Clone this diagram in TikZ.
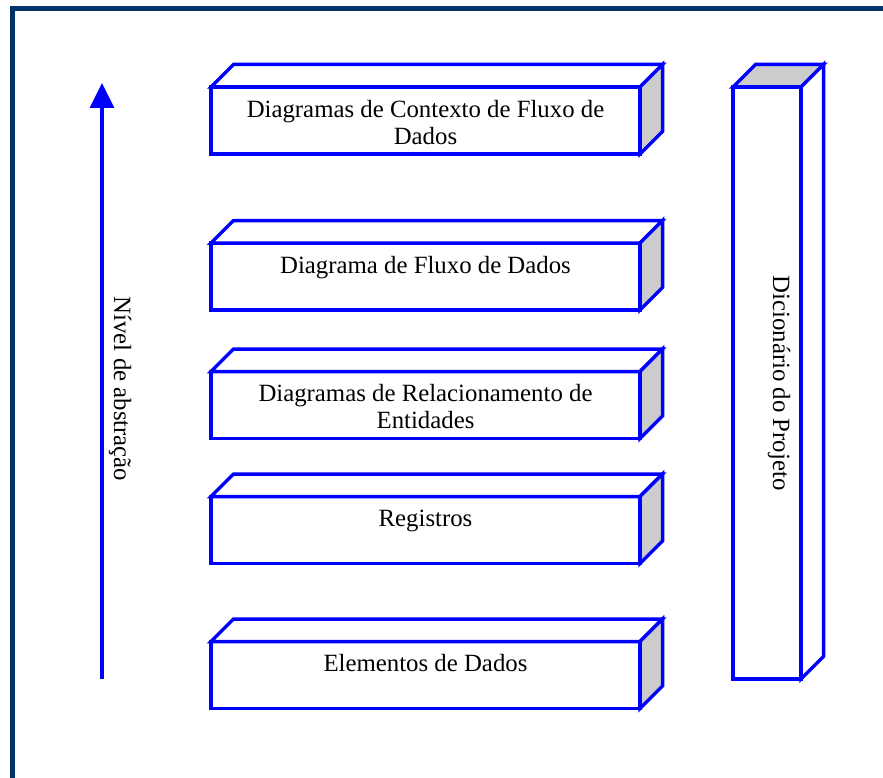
\documentclass[tikz,border=0pt]{standalone}
\usepackage{fontspec}
\setmainfont{Liberation Serif}
\usetikzlibrary{arrows.meta}
\definecolor{frameblue}{RGB}{0,51,102}
\definecolor{sidegray}{RGB}{204,204,204}
\begin{document}
\begin{tikzpicture}[x=1pt, y=-1pt,
    face/.style={rectangle, draw=blue, line width=3.5pt, fill=white, outer sep=0pt, minimum width=429pt, minimum height=67pt},
    side/.style={draw=blue, line width=3.5pt, line join=miter, fill=sidegray},
    txt/.style={anchor=north, align=center, inner sep=0pt, text height=18pt, font=\fontsize{24.8}{27}\selectfont},
    arr/.style={-{Triangle[length=25pt, width=24pt]}, line width=3.5pt, blue}
]
\useasboundingbox (0,0) rectangle (883,778);
\draw[frameblue, line width=5pt] (883,8.5) -- (12.5,8.5) -- (12.5,778);

% front faces of the layers
\node[face] (ctx) at (425.5,120.5) {};
\node[face] (dfd) at (425.5,276.5) {};
\node[face] (der) at (425.5,405) {};
\node[face] (reg) at (425.5,530) {};
\node[face] (ele) at (425.5,675) {};
\node[face, minimum width=68pt, minimum height=592pt] (dic) at (767,383) {};

% top and right faces
\foreach \b in {ctx,dfd,der,reg,ele}{
  \draw[side, fill=white] (\b.north west) -- ++(22.5,-22.5) -- ([shift={(22.5,-22.5)}]\b.north east) -- (\b.north east) -- cycle;
  \draw[side] (\b.north east) -- ++(22.5,-22.5) -- ([shift={(22.5,-22.5)}]\b.south east) -- (\b.south east) -- cycle;
}
\draw[side] (dic.north west) -- ++(22.5,-22.5) -- ([shift={(22.5,-22.5)}]dic.north east) -- (dic.north east) -- cycle;
\draw[side, fill=white] (dic.north east) -- ++(22.5,-22.5) -- ([shift={(22.5,-22.5)}]dic.south east) -- (dic.south east) -- cycle;

% texts
\node[txt] (ctxt) at ([yshift=-39pt]ctx.north) {Diagramas de Contexto de Fluxo de\\Dados};
\node[txt] (dfdt) at ([yshift=-12pt]dfd.north) {Diagrama de Fluxo de Dados};
\node[txt] (dert) at ([yshift=-39pt]der.north) {Diagramas de Relacionamento de\\Entidades};
\node[txt] (regt) at ([yshift=-12pt]reg.north) {Registros};
\node[txt] (elet) at ([yshift=-12pt]ele.north) {Elementos de Dados};
\node[rotate=-90, font=\fontsize{24.8}{27}\selectfont] (dict) at (779,383) {Dicionário do Projeto};

% abstraction axis
\coordinate (abot) at (102,679);
\coordinate (atop) at (102,83);
\draw[arr] (abot) -- (atop);
\node[rotate=-90, font=\fontsize{24.8}{27}\selectfont] (nivel) at (120,389) {Nível de abstração};
\end{tikzpicture}
\end{document}
